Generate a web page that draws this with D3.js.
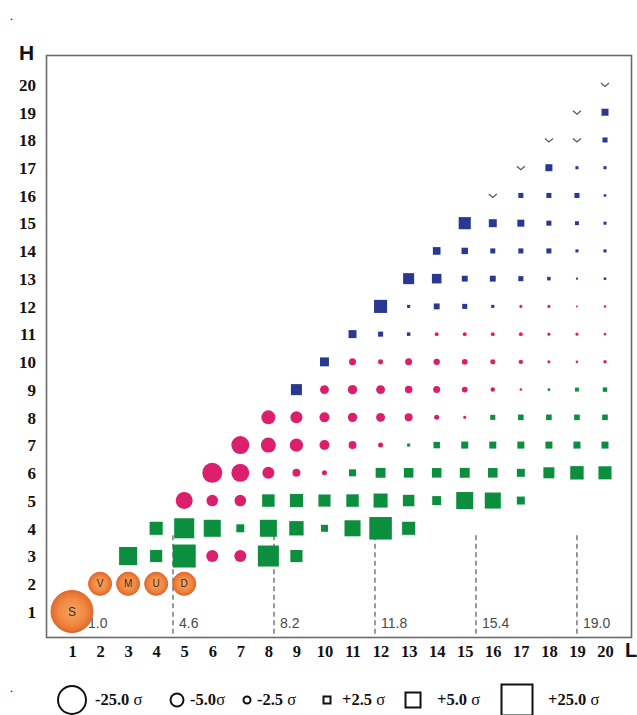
<!DOCTYPE html>
<html>
<head>
<meta charset="utf-8">
<script src="https://cdn.jsdelivr.net/npm/d3@7"></script>
<style>
  html, body { margin: 0; padding: 0; background: #fff; }
  svg { display: block; }
</style>
</head>
<body>
<svg id="chart" width="637" height="715"></svg>
<script>
// ---- data -------------------------------------------------------------
const lTicks = d3.range(1, 21);
const hTicks = d3.range(1, 21);

// significance (in sigma) of every (L, H) cell, one row per H,
// starting at column rowStart; negative = deficit, positive = excess
const rowH     = [3, 4, 5, 6, 7, 8, 9, 10, 11, 12, 13, 14, 15, 16, 17, 18, 19];
const rowStart = [3, 4, 5, 6, 7, 8, 9, 10, 11, 12, 13, 14, 15, 17, 18, 20, 20];
const rowSigma = [
  [8.8, 4.1, 15.0, -4.6, -4.6, 12.5, 4.1],
  [4.4, 11.3, 7.5, 2.8, 7.5, 4.8, 2.5, 6.3, 14.4, 4.4],
  [-10.3, -4.4, -4.4, 4.2, 4.4, 4.1, 4.2, 4.7, 3.9, 3.1, 7.5, 6.3, 2.8],
  [-14.3, -11.7, -4.6, -2.9, -1.8, 2.5, 3.4, 3.3, 3.3, 3.4, 3.3, 2.8, 3.75, 4.5, 4.4],
  [-11.7, -7.7, -5.4, -3.75, -2.9, -1.8, 1.1, 2.3, 2.5, 2.5, 2.5, 2.5, 2.5, 2.5],
  [-6.3, -4.6, -3.75, -3.5, -3.3, -2.9, -1.8, -1.1, 1.8, 2.0, 2.0, 2.0, 2.0],
  [3.75, -3.3, -3.5, -3.3, -2.7, -2.5, -2.1, -1.6, -0.9, 0.9, 1.4, 1.6],
  [3.1, -2.5, -1.8, -2.5, -2.3, -2.1, -1.8, -1.6, -1.1, -0.9, -1.25],
  [2.8, 1.8, 1.25, -1.4, -1.4, -1.4, -1.4, -1.1, -1.1, -0.9],
  [4.4, 1.1, 2.1, 1.8, 1.1, -1.1, -1.1, -0.7, -0.9],
  [3.75, 3.3, 2.1, 2.1, 1.8, 1.25, 0.7, 0.9],
  [2.7, 2.3, 1.8, 1.8, 1.8, 1.1, 1.1],
  [4.1, 2.8, 2.5, 1.8, 1.4, 1.1],
  [1.8, 1.8, 1.8, 0.9],
  [2.5, 1.1, 1.1],
  [1.8],
  [2.5]
];
// family of each cell: g = lower band, p = deficit band, b = upper band
const rowFamily = [
  "gggppgg",
  "gggggggggg",
  "pppgggggggggg",
  "pppppgggggggggg",
  "ppppppgggggggg",
  "ppppppppggggg",
  "bppppppppggg",
  "bpppppppppp",
  "bbbppppppp",
  "bbbbbpppp",
  "bbbbbbbb",
  "bbbbbbb",
  "bbbbbb",
  "bbbb",
  "bbb",
  "b",
  "b"
];

// cells marked as empty
const emptyL = [16, 17, 18, 19, 19, 20];
const emptyH = [16, 17, 18, 18, 19, 20];

// named reference points
const namedLabel  = ["S", "V", "M", "U", "D"];
const namedL      = [1, 2, 3, 4, 5];
const namedH      = [1, 2, 2, 2, 2];
const namedWeight = [10, 3, 3, 3, 3];

// band boundaries along L
const boundaries = [1.0, 4.6, 8.2, 11.8, 15.4, 19.0];

// legend entries
const legendSigma = [-25, -5, -2.5, 2.5, 5, 25];
const legendNum   = ["-25.0", "-5.0", "-2.5", "+2.5", "+5.0", "+25.0"];
const legendSep   = [" ", "", " ", " ", " ", " "];

// ---- scales ------------------------------------------------------------
const svg = d3.select("#chart");

const x = d3.scaleLinear().domain([1, 20]).range([72, 605]);
const y = d3.scaleLinear().domain([1, 20]).range([611.5, 84.5]);

// mark size from |sigma|: square side and circle diameter
const sideScale = d3.scaleLinear().domain([0, 2.5, 5, 25]).range([0, 7, 15, 31]);
const diaScale  = d3.scaleLinear().domain([0, 2.5, 5, 25]).range([0, 7, 13, 28]);
const namedDia  = d3.scaleSqrt().domain([0, 10]).range([0, 42]);

const familyColor = d3.scaleOrdinal()
  .domain(["g", "p", "b"])
  .range(["#0b8e3e", "#dc1f6c", "#2b3891"]);

const cells = [];
rowH.forEach((h, i) => {
  rowSigma[i].forEach((s, j) => {
    cells.push({ L: rowStart[i] + j, H: h, sigma: s, family: rowFamily[i][j] });
  });
});

// ---- frame -------------------------------------------------------------
svg.append("rect")
  .attr("x", 46.5).attr("y", 55.5)
  .attr("width", 585).attr("height", 582)
  .attr("fill", "none")
  .attr("stroke", "#6a6a6a")
  .attr("stroke-width", 1.6);

// stray dots in the page margin
svg.append("text").attr("x", 10).attr("y", 20).attr("font-size", 12)
  .attr("font-family", "Liberation Serif").text(".");
svg.append("text").attr("x", 10).attr("y", 692).attr("font-size", 12)
  .attr("font-family", "Liberation Serif").text(".");

// ---- band boundaries ------------------------------------------------------
const lineTop = y(3.75);
const lineBottom = 637;
svg.append("g").selectAll("line")
  .data(boundaries.filter(b => b > 1))
  .join("line")
  .attr("x1", d => x(d)).attr("x2", d => x(d))
  .attr("y1", lineTop).attr("y2", lineBottom)
  .attr("stroke", "#555")
  .attr("stroke-width", 1.2)
  .attr("stroke-dasharray", "5,3.5");

svg.append("g").selectAll("text")
  .data(boundaries)
  .join("text")
  .attr("x", (d, i) => x(d) + (i === 0 ? 16 : 6))
  .attr("y", 628)
  .attr("font-family", "Liberation Sans, Arial, sans-serif")
  .attr("font-size", 14)
  .attr("fill", "#4a4a4a")
  .text(d => d.toFixed(1));

// ---- cells ---------------------------------------------------------------
const marks = svg.append("g");

marks.selectAll("rect.cell")
  .data(cells.filter(d => d.sigma > 0))
  .join("rect")
  .attr("class", "cell")
  .attr("x", d => x(d.L) - sideScale(d.sigma) / 2)
  .attr("y", d => y(d.H) - sideScale(d.sigma) / 2)
  .attr("width", d => sideScale(d.sigma))
  .attr("height", d => sideScale(d.sigma))
  .attr("fill", d => familyColor(d.family));

marks.selectAll("circle.cell")
  .data(cells.filter(d => d.sigma < 0))
  .join("circle")
  .attr("class", "cell")
  .attr("cx", d => x(d.L))
  .attr("cy", d => y(d.H))
  .attr("r", d => diaScale(-d.sigma) / 2)
  .attr("fill", d => familyColor(d.family));

// empty cells: small chevrons
marks.selectAll("path.empty")
  .data(emptyL.map((l, i) => ({ L: l, H: emptyH[i] })))
  .join("path")
  .attr("class", "empty")
  .attr("d", d => {
    const cx = x(d.L), cy = y(d.H);
    return `M${cx - 4},${cy - 1.5} L${cx},${cy + 2} L${cx + 4},${cy - 1.5}`;
  })
  .attr("fill", "none")
  .attr("stroke", "#555")
  .attr("stroke-width", 1.2);

// named points
const defs = svg.append("defs");
const grad = defs.append("radialGradient").attr("id", "orangeBall");
grad.append("stop").attr("offset", "0%").attr("stop-color", "#f6a462");
grad.append("stop").attr("offset", "65%").attr("stop-color", "#f08840");
grad.append("stop").attr("offset", "100%").attr("stop-color", "#e36a2b");

const named = namedLabel.map((s, i) => ({ label: s, L: namedL[i], H: namedH[i], w: namedWeight[i] }));
const ng = marks.selectAll("g.named").data(named).join("g").attr("class", "named")
  .attr("transform", d => `translate(${x(d.L)},${y(d.H)})`);
ng.append("circle")
  .attr("r", d => namedDia(d.w) / 2)
  .attr("fill", "url(#orangeBall)")
  .attr("stroke", "#e06429")
  .attr("stroke-width", 1);
ng.append("text")
  .attr("text-anchor", "middle")
  .attr("dy", "0.36em")
  .attr("font-family", "Liberation Sans, Arial, sans-serif")
  .attr("font-size", d => d.w > 5 ? 12 : 10)
  .attr("fill", "#3a2a20")
  .text(d => d.label);

// ---- axes ----------------------------------------------------------------
const xAxis = svg.append("g")
  .attr("transform", "translate(0,641)")
  .call(d3.axisBottom(x).tickValues(lTicks).tickSize(0).tickFormat(d3.format("d")));
xAxis.select(".domain").remove();
xAxis.selectAll("text")
  .attr("y", 16).attr("dy", null)
  .attr("font-family", "Liberation Serif, 'Times New Roman', serif")
  .attr("font-weight", "bold")
  .attr("font-size", 16.5)
  .attr("fill", "#111");

const yAxis = svg.append("g")
  .attr("transform", "translate(36,0)")
  .call(d3.axisLeft(y).tickValues(hTicks).tickSize(0).tickPadding(0).tickFormat(d3.format("d")));
yAxis.select(".domain").remove();
yAxis.selectAll("text")
  .attr("dy", "0.34em")
  .attr("font-family", "Liberation Serif, 'Times New Roman', serif")
  .attr("font-weight", "bold")
  .attr("font-size", 17)
  .attr("fill", "#111");

svg.append("text")
  .attr("x", 19).attr("y", 60)
  .attr("font-family", "Liberation Sans, Arial, sans-serif")
  .attr("font-weight", "bold")
  .attr("font-size", 21)
  .attr("fill", "#111")
  .text("H");

svg.append("text")
  .attr("x", 625).attr("y", 657)
  .attr("font-family", "Liberation Sans, Arial, sans-serif")
  .attr("font-weight", "bold")
  .attr("font-size", 20)
  .attr("fill", "#111")
  .text("L");

// ---- legend --------------------------------------------------------------
const legendSlots = [72, 177, 247, 327, 413, 517];   // symbol centres
const legendTextX = [95, 190, 257, 342, 437, 548];
const legendY = 700;
const lg = svg.append("g");
legendSigma.forEach((s, i) => {
  if (s < 0) {
    lg.append("circle")
      .attr("cx", legendSlots[i]).attr("cy", legendY)
      .attr("r", diaScale(-s) / 2)
      .attr("fill", "none").attr("stroke", "#111").attr("stroke-width", 2);
  } else {
    const a = sideScale(s);
    lg.append("rect")
      .attr("x", legendSlots[i] - a / 2).attr("y", legendY - a / 2)
      .attr("width", a).attr("height", a)
      .attr("fill", "none").attr("stroke", "#111").attr("stroke-width", 2);
  }
  const t = lg.append("text")
    .attr("x", legendTextX[i]).attr("y", legendY + 5)
    .attr("font-family", "Liberation Serif, 'Times New Roman', serif")
    .attr("font-size", 16.5)
    .attr("fill", "#111");
  t.append("tspan").attr("font-weight", "bold").text(legendNum[i]);
  t.append("tspan").text(legendSep[i] + "σ");
});
</script>
</body>
</html>
